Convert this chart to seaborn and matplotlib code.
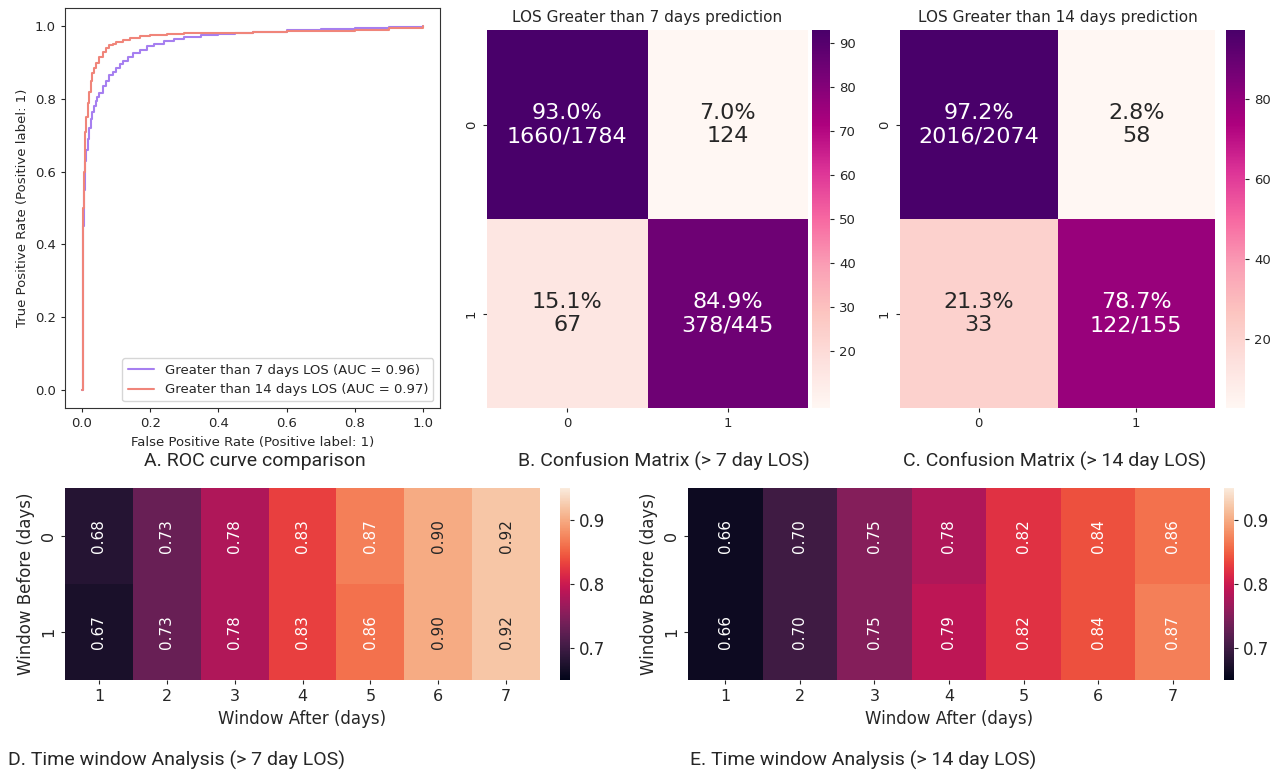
import numpy as np
import pandas as pd
import seaborn as sns
import matplotlib.pyplot as plt

sns.set_style('white')

# ROC curves
fpr_7 = [0, 0.002, 0.004, 0.006, 0.008, 0.01, 0.013, 0.016, 0.02, 0.025, 0.03, 0.035, 0.04, 0.045, 0.05,
         0.06, 0.07, 0.08, 0.09, 0.1, 0.11, 0.12, 0.135, 0.15, 0.17, 0.19, 0.21, 0.24, 0.27, 0.3, 0.35,
         0.4, 0.45, 0.5, 0.6, 0.7, 0.8, 0.9, 1.0]
tpr_7 = [0, 0.3, 0.45, 0.55, 0.6, 0.63, 0.66, 0.69, 0.72, 0.745, 0.765, 0.78, 0.795, 0.805, 0.815,
         0.835, 0.85, 0.865, 0.875, 0.885, 0.895, 0.905, 0.915, 0.925, 0.935, 0.945, 0.952, 0.96, 0.965,
         0.97, 0.975, 0.978, 0.982, 0.985, 0.99, 0.993, 0.996, 0.998, 1.0]
fpr_14 = [0, 0.002, 0.004, 0.006, 0.008, 0.01, 0.013, 0.016, 0.02, 0.025, 0.03, 0.035, 0.04, 0.05,
          0.06, 0.07, 0.08, 0.09, 0.1, 0.12, 0.14, 0.17, 0.2, 0.25, 0.3, 0.4, 0.5, 0.6, 0.7, 0.8, 0.9, 1.0]
tpr_14 = [0, 0.35, 0.5, 0.6, 0.66, 0.71, 0.75, 0.79, 0.82, 0.85, 0.87, 0.885, 0.9, 0.915,
          0.928, 0.94, 0.947, 0.952, 0.957, 0.963, 0.968, 0.972, 0.975, 0.978, 0.98, 0.982, 0.984, 0.986,
          0.988, 0.99, 0.995, 1.0]
roc_labels = ['Greater than 7 days LOS (AUC = 0.96)', 'Greater than 14 days LOS (AUC = 0.97)']

# confusion matrices (percent, label text)
cm7_pct = [[93.0, 7.0], [15.1, 84.9]]
cm7_txt = [['93.0%\n1660/1784', '7.0%\n124'], ['15.1%\n67', '84.9%\n378/445']]
cm14_pct = [[97.2, 2.8], [21.3, 78.7]]
cm14_txt = [['97.2%\n2016/2074', '2.8%\n58'], ['21.3%\n33', '78.7%\n122/155']]

# time window analysis
window_after = [1, 2, 3, 4, 5, 6, 7]
window_before = [0, 1]
tw7 = [[0.68, 0.73, 0.78, 0.83, 0.87, 0.90, 0.92],
       [0.67, 0.73, 0.78, 0.83, 0.86, 0.90, 0.92]]
tw14 = [[0.66, 0.70, 0.75, 0.78, 0.82, 0.84, 0.86],
        [0.66, 0.70, 0.75, 0.79, 0.82, 0.84, 0.87]]

fig = plt.figure(figsize=(12.8, 7.79), dpi=100)
W, H = 1280, 779


def box(x0, y0, x1, y1):
    return [x0 / W, 1 - y1 / H, (x1 - x0) / W, (y1 - y0) / H]


cap_font = dict(family=['Roboto', 'DejaVu Sans'], fontsize=14)

# A. ROC
ax = fig.add_axes(box(65, 8, 440, 408))
ax.plot(fpr_7, tpr_7, drawstyle='steps-post', color='#a67ff0', label=roc_labels[0])
ax.plot(fpr_14, tpr_14, drawstyle='steps-post', color='#f0857a', label=roc_labels[1])
ax.set_xlim(-0.05, 1.05)
ax.set_ylim(-0.05, 1.05)
ax.set_xticks(np.arange(0, 1.01, 0.2))
ax.set_yticks(np.arange(0, 1.01, 0.2))
ax.tick_params(labelsize=9.5, length=3, left=True, bottom=True)
ax.set_xlabel('False Positive Rate (Positive label: 1)', fontsize=9.5)
ax.set_ylabel('True Positive Rate (Positive label: 1)', fontsize=9.5)
ax.legend(loc='lower right', fontsize=9.5)
for s in ax.spines.values():
    s.set_color('#333333')
fig.text(255 / W, 1 - 461 / H, 'A. ROC curve comparison', ha='center', va='center', **cap_font)


def confusion(pos, cpos, pct, txt, title, cticks):
    ax = fig.add_axes(box(*pos))
    cax = fig.add_axes(box(*cpos))
    sns.heatmap(pd.DataFrame(pct), annot=np.array(txt), fmt='', cmap='RdPu', ax=ax, cbar_ax=cax,
                annot_kws={'fontsize': 16})
    ax.set_title(title, fontsize=11)
    ax.tick_params(labelsize=9.5, length=3, left=True, bottom=True)
    cax.set_yticks(cticks)
    cax.tick_params(labelsize=9.5, length=3)
    return ax


confusion((487, 30, 808, 408), (812, 30, 830, 408), cm7_pct, cm7_txt,
          'LOS Greater than 7 days prediction', [20, 30, 40, 50, 60, 70, 80, 90])
fig.text(664 / W, 1 - 461 / H, 'B. Confusion Matrix (> 7 day LOS)', ha='center', va='center', **cap_font)
confusion((900, 30, 1215, 408), (1226, 30, 1245, 408), cm14_pct, cm14_txt,
          'LOS Greater than 14 days prediction', [20, 40, 60, 80])
fig.text(1055 / W, 1 - 461 / H, 'C. Confusion Matrix (> 14 day LOS)', ha='center', va='center', **cap_font)


def window(pos, cpos, vals):
    ax = fig.add_axes(box(*pos))
    cax = fig.add_axes(box(*cpos))
    df = pd.DataFrame(vals, index=window_before, columns=window_after)
    sns.heatmap(df, annot=True, fmt='.2f', cmap='rocket', vmin=0.65, vmax=0.95, ax=ax, cbar_ax=cax,
                annot_kws={'rotation': 90, 'fontsize': 11})
    ax.set_xlabel('Window After (days)', fontsize=12)
    ax.set_ylabel('Window Before (days)', fontsize=12)
    ax.tick_params(labelsize=11.5, length=3, left=True, bottom=True)
    cax.set_yticks([0.7, 0.8, 0.9])
    cax.tick_params(labelsize=12, length=3)


window((65, 488, 540, 680), (560, 488, 570, 680), tw7)
fig.text(8 / W, 1 - 760 / H, 'D. Time window Analysis (> 7 day LOS)', ha='left', va='center', **cap_font)
window((688, 488, 1210, 680), (1224, 488, 1234, 680), tw14)
fig.text(690 / W, 1 - 760 / H, 'E. Time window Analysis (> 14 day LOS)', ha='left', va='center', **cap_font)

fig.savefig('out.png', dpi=100)
